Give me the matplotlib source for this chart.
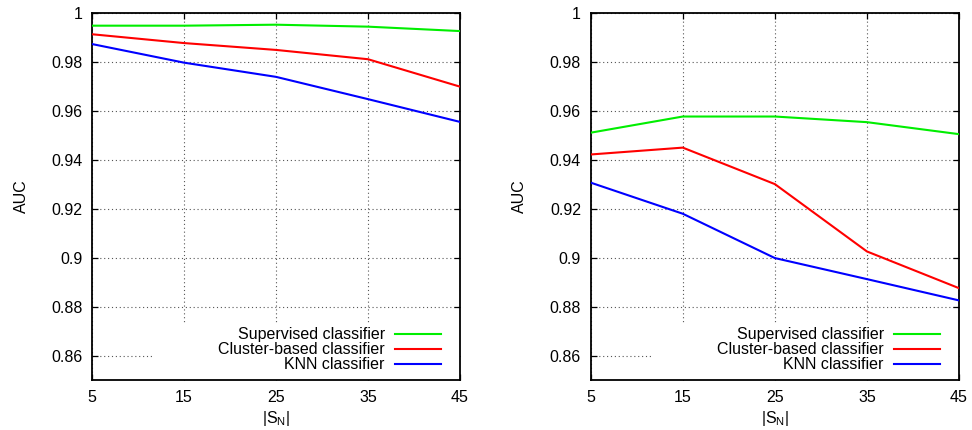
import matplotlib
matplotlib.use("Agg")
import matplotlib.pyplot as plt
from matplotlib.patches import Rectangle
from matplotlib.ticker import FuncFormatter

plt.rcParams['font.family'] = ['Liberation Sans', 'DejaVu Sans']
FS = 11.5
plt.rcParams['font.size'] = FS

x = [5, 15, 25, 35, 45]
series_names = ["Supervised classifier", "Cluster-based classifier", "KNN classifier"]
colors = ["#00ee00", "#ff0000", "#0000ff"]

left_supervised = [0.9947, 0.9947, 0.9951, 0.9943, 0.9925]
left_cluster = [0.9912, 0.9876, 0.9848, 0.9810, 0.9698]
left_knn = [0.9872, 0.9796, 0.9738, 0.9647, 0.9554]

right_supervised = [0.9510, 0.9576, 0.9576, 0.9553, 0.9504]
right_cluster = [0.9421, 0.9449, 0.9300, 0.9025, 0.8875]
right_knn = [0.9306, 0.9179, 0.8998, 0.8912, 0.8825]

yticks = [0.86, 0.88, 0.90, 0.92, 0.94, 0.96, 0.98, 1.0]

fig = plt.figure(figsize=(9.72, 4.3), dpi=100)
W, H = 972, 430
ax1 = fig.add_axes([92 / W, 1 - 380 / H, (460 - 92) / W, (380 - 12.7) / H])
ax2 = fig.add_axes([590.7 / W, 1 - 380 / H, (959 - 590.7) / W, (380 - 12.7) / H])

fmt = FuncFormatter(lambda v, p: "%g" % round(v, 4))

for ax, data in [(ax1, [left_supervised, left_cluster, left_knn]),
                 (ax2, [right_supervised, right_cluster, right_knn])]:
    ax.set_axisbelow(True)
    for vals, name, c in zip(data, series_names, colors):
        ax.plot(x, vals, color=c, lw=1.5, label=name, zorder=3)
    ax.set_xlim(5, 45)
    ax.set_ylim(0.85, 1.0)
    ax.set_xticks(x)
    ax.set_yticks(yticks)
    ax.yaxis.set_major_formatter(fmt)
    ax.grid(True, color="#555555", linestyle=(0, (1, 2.5)), linewidth=0.8)
    ax.tick_params(direction="in", length=4, width=0.9, top=True, right=True,
                   labelsize=FS, pad=7, colors="black")
    for s in ax.spines.values():
        s.set_linewidth(1.3)
    # key area background (erases grid behind the key, gnuplot style)
    ax.add_patch(Rectangle((0.166, 0.0), 0.834, 0.155, transform=ax.transAxes,
                           facecolor="white", edgecolor="none", zorder=1))
    ax.set_ylabel("AUC", fontsize=FS, labelpad=16)
    ax.set_xlabel("|S$_\\mathregular{N}$|", fontsize=FS, labelpad=3)
    leg = ax.legend(loc="lower right", bbox_to_anchor=(0.948, 0.021), frameon=False,
                    markerfirst=False, handlelength=2.9, handletextpad=0.62,
                    labelspacing=0.0, borderpad=0, borderaxespad=0, fontsize=FS)
    for t in leg.get_texts():
        t.set_ha("right")

fig.savefig("out.png", dpi=100)
